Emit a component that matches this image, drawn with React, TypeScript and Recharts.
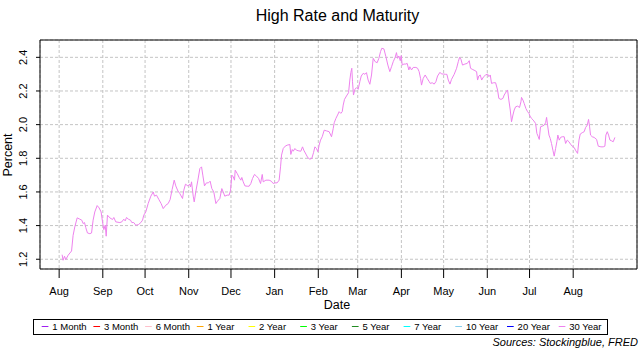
import React from 'react';
import { LineChart, Line, XAxis, YAxis, CartesianGrid, ReferenceArea } from 'recharts';

// days since 2020-08-01
const days = [
  2.1, 2.8, 3.8, 4.7, 6.4, 8.8, 9.9, 11.1, 12.8, 14.7, 16.1, 17.0, 18.0, 18.9, 20.1, 21.8, 23.0, 24.1, 25.3, 27.0,
  28.4, 29.8, 30.8, 31.7, 32.7, 33.4, 34.3, 36.0, 37.9, 38.8, 40.2, 43.1, 44.5, 45.9, 46.9, 47.8, 49.2, 50.7, 51.6, 53.0,
  54.4, 56.3, 58.0, 59.2, 60.1, 61.5, 63.2, 65.1, 66.8, 67.7, 69.1, 70.8, 72.4, 73.9, 75.7, 77.4, 78.8, 80.2, 81.7, 82.8,
  84.3, 85.7, 87.6, 88.5, 89.7, 91.4, 92.8, 93.3, 94.0, 95.2, 95.9, 97.0, 98.5, 99.9, 101.1, 102.0, 103.2, 104.6, 106.0, 107.2,
  108.4, 109.8, 111.3, 112.4, 114.1, 115.5, 116.5, 117.6, 119.3, 120.7, 121.7, 122.6, 123.6, 124.5,
  125.0, 126.4, 127.8, 129.0, 129.7, 130.7, 131.9, 133.5, 134.9, 136.1, 137.3, 138.7, 140.1, 141.6, 143.0, 144.2, 144.9, 146.8,
  149.1, 150.6, 152.0, 153.2, 154.8, 156.2, 157.2, 157.9, 159.1, 160.5, 161.9, 163.8, 164.5, 165.5, 166.2, 167.4, 168.5, 170.2,
  171.6, 172.8, 173.7, 175.2, 176.6, 178.0, 179.4, 180.6, 181.6, 182.7, 183.7, 184.6, 185.6, 186.8, 188.2, 189.8, 191.7, 193.4,
  194.6, 195.3, 196.5, 197.7, 198.8, 200.0, 201.0, 201.7, 202.6, 204.0, 205.5, 206.4, 207.1, 207.8, 208.3, 209.0, 210.0, 211.1,
  212.3, 213.5, 214.5, 215.9, 217.1, 218.2, 219.4, 220.6, 221.8, 223.0, 224.4, 225.8, 227.0, 228.2, 229.1, 230.6, 232.0, 233.4,
  234.8, 236.0, 237.2, 238.6, 239.5, 240.3, 241.2, 242.2, 242.9, 243.6, 244.8, 246.2, 247.1, 248.3, 249.0, 250.2, 251.4, 253.3,
  254.5, 255.6, 256.6, 257.3, 258.5, 259.9, 261.3, 262.8,
  263.5, 264.9, 266.3, 267.5, 268.7, 270.4, 271.5, 272.7, 274.4, 275.3, 276.3, 277.5, 278.6, 280.5, 282.2, 283.4, 284.3, 285.3,
  286.4, 288.1, 289.8, 291.2, 292.1, 293.3, 295.2, 296.4, 297.1, 298.0, 299.0, 300.0, 301.4, 302.8, 304.2, 305.1, 306.1, 307.0,
  308.5, 309.9, 311.3, 312.2, 313.7, 315.1, 316.0, 317.5, 318.4, 319.3, 320.3, 321.2, 322.2, 323.1, 324.1, 325.5, 326.9, 327.9,
  328.3, 329.3, 330.2, 331.4, 332.6, 333.6, 334.3, 335.4, 336.6, 338.3, 339.2, 340.2, 340.9, 341.8, 343.0, 344.4, 345.4, 346.1,
  346.8, 347.8, 348.7, 349.6, 350.6, 351.5, 352.5, 353.4, 354.1, 355.1, 356.0, 357.2, 358.6, 359.6, 360.8, 362.0, 363.1, 364.3,
  365.7, 366.9, 368.1, 369.1, 370.0, 371.4, 372.8, 373.8, 375.0, 375.9, 376.6, 377.3, 378.5, 379.9, 381.6, 382.8, 384.7, 386.3,
  387.5, 388.2, 389.2, 390.1, 391.1, 392.2, 393.4, 394.6,
];

const rates = [
  1.227, 1.194, 1.218, 1.198, 1.224, 1.249, 1.342, 1.392, 1.446, 1.438, 1.432, 1.412, 1.418, 1.388, 1.356, 1.352, 1.356, 1.432, 1.481, 1.519,
  1.505, 1.481, 1.422, 1.376, 1.402, 1.337, 1.462, 1.446, 1.436, 1.448, 1.422, 1.418, 1.422, 1.438, 1.428, 1.448, 1.438, 1.432, 1.418, 1.418,
  1.402, 1.406, 1.418, 1.432, 1.462, 1.481, 1.531, 1.575, 1.600, 1.575, 1.581, 1.555, 1.531, 1.501, 1.521, 1.531, 1.555, 1.614, 1.670, 1.636,
  1.606, 1.590, 1.561, 1.610, 1.646, 1.636, 1.646, 1.630, 1.660, 1.575, 1.541, 1.600, 1.670, 1.739, 1.749, 1.700, 1.636, 1.654, 1.654, 1.664,
  1.620, 1.600, 1.531, 1.545, 1.561, 1.620, 1.600, 1.575, 1.581, 1.581, 1.610, 1.700, 1.690, 1.670,
  1.729, 1.710, 1.686, 1.670, 1.686, 1.660, 1.636, 1.634, 1.634, 1.650, 1.680, 1.704, 1.694, 1.680, 1.650, 1.704, 1.660, 1.670,
  1.670, 1.664, 1.650, 1.654, 1.654, 1.670, 1.749, 1.819, 1.858, 1.872, 1.878, 1.882, 1.823, 1.852, 1.842, 1.858, 1.848, 1.844,
  1.842, 1.868, 1.848, 1.825, 1.803, 1.795, 1.799, 1.833, 1.868, 1.858, 1.839, 1.878, 1.908, 1.928, 1.967, 1.963, 1.958, 1.928,
  1.977, 2.011, 2.037, 2.057, 2.077, 2.067, 2.077, 2.116, 2.150, 2.170, 2.190, 2.265, 2.309, 2.335, 2.255, 2.176, 2.210, 2.220,
  2.210, 2.255, 2.289, 2.305, 2.299, 2.309, 2.265, 2.240, 2.295, 2.394, 2.374, 2.368, 2.394, 2.434, 2.454, 2.450, 2.404, 2.354,
  2.315, 2.344, 2.374, 2.400, 2.428, 2.394, 2.408, 2.380, 2.410, 2.354, 2.360, 2.360, 2.364, 2.325, 2.344, 2.325, 2.340, 2.340,
  2.335, 2.315, 2.275, 2.235, 2.275, 2.295, 2.275, 2.255,
  2.245, 2.249, 2.241, 2.255, 2.289, 2.311, 2.301, 2.301, 2.299, 2.299, 2.265, 2.241, 2.269, 2.299, 2.335, 2.374, 2.400, 2.388,
  2.354, 2.360, 2.364, 2.380, 2.335, 2.329, 2.321, 2.315, 2.265, 2.289, 2.295, 2.265, 2.285, 2.295, 2.301, 2.285, 2.295, 2.245,
  2.249, 2.249, 2.206, 2.156, 2.150, 2.156, 2.176, 2.196, 2.206, 2.146, 2.087, 2.017, 2.057, 2.087, 2.106, 2.110, 2.102, 2.136,
  2.162, 2.146, 2.126, 2.096, 2.077, 2.067, 2.051, 2.037, 2.027, 2.007, 1.948, 1.928, 1.912, 1.987, 1.991, 1.997, 2.011, 2.043,
  1.997, 1.938, 1.918, 1.888, 1.848, 1.813, 1.858, 1.898, 1.938, 1.908, 1.924, 1.928, 1.928, 1.888, 1.908, 1.898, 1.884, 1.872,
  1.864, 1.844, 1.829, 1.908, 1.944, 1.952, 1.958, 1.983, 1.997, 2.031, 1.991, 1.938, 1.928, 1.924, 1.912, 1.872, 1.868, 1.868,
  1.872, 1.938, 1.958, 1.938, 1.908, 1.904, 1.898, 1.924,
];

const monthTicks = [0, 31, 61, 92, 122, 153, 184, 212, 243, 273, 304, 334, 365];
const monthLabels = ['Aug', 'Sep', 'Oct', 'Nov', 'Dec', 'Jan', 'Feb', 'Mar', 'Apr', 'May', 'Jun', 'Jul', 'Aug'];
const yTicks = [1.2, 1.4, 1.6, 1.8, 2.0, 2.2, 2.4];

const maturities = ['1 Month', '3 Month', '6 Month', '1 Year', '2 Year', '3 Year', '5 Year', '7 Year', '10 Year', '20 Year', '30 Year'];
const maturityColors = ['#A020F0', '#FF0000', '#FFC0CB', '#FFA500', '#FFFF00', '#00FF00', '#228B22', '#00FFFF', '#87CEEB', '#0000FF', '#EE82EE'];

const xDomain: [number, number] = [-13.6, 410.3];
const yDomain: [number, number] = [1.142, 2.503];

const FONT = '"Liberation Sans", Arial, sans-serif';

const data = days.map((d, i) => ({ day: d, rate: rates[i] }));

const YTick = (props: any) => {
  const { y, payload } = props;
  const x = 27;
  return (
    <text x={x} y={y} transform={`rotate(-90 ${x} ${y})`} textAnchor="middle" fontSize={11} fontFamily={FONT} fill="#000">
      {Number(payload.value).toFixed(1)}
    </text>
  );
};

const XTick = (props: any) => {
  const { x, payload } = props;
  const idx = monthTicks.indexOf(payload.value);
  return (
    <text x={x} y={295} textAnchor="middle" fontSize={11} fontFamily={FONT} fill="#000">
      {idx >= 0 ? monthLabels[idx] : ''}
    </text>
  );
};

export default function App() {
  return (
    <div style={{ position: 'absolute', left: 0, top: 0, width: 640, height: 360, background: '#fff' }}>
      <LineChart
        width={640}
        height={360}
        data={data}
        margin={{ top: 40, right: 3, bottom: 51, left: 0 }}
      >
        <CartesianGrid stroke="#c4c4c4" strokeDasharray="3 2" />
        <XAxis
          dataKey="day"
          type="number"
          domain={xDomain}
          allowDataOverflow
          ticks={monthTicks}
          interval={0}
          height={40}
          axisLine={false}
          tickLine={{ stroke: '#000' }}
          tickSize={9}
          tick={<XTick />}
        />
        <YAxis
          type="number"
          domain={yDomain}
          allowDataOverflow
          ticks={yTicks}
          interval={0}
          width={40}
          axisLine={false}
          tickLine={{ stroke: '#000' }}
          tickSize={4}
          tick={<YTick />}
        />
        <Line
          type="linear"
          dataKey="rate"
          stroke="#EE82EE"
          strokeWidth={1}
          dot={false}
          activeDot={false}
          isAnimationActive={false}
        />
        <ReferenceArea
          x1={xDomain[0]}
          x2={xDomain[1]}
          y1={yDomain[0]}
          y2={yDomain[1]}
          fill="none"
          fillOpacity={0}
          stroke="#000"
          strokeWidth={1}
          ifOverflow="visible"
        />
      </LineChart>
      <svg width={640} height={360} style={{ position: 'absolute', left: 0, top: 0, pointerEvents: 'none' }}>
        <text x={337.5} y={21} textAnchor="middle" fontSize={16} fontFamily={FONT} fill="#000">
          High Rate and Maturity
        </text>
        <text x={337} y={309} textAnchor="middle" fontSize={12.5} fontFamily={FONT} fill="#000">
          Date
        </text>
        <text x={12} y={155} transform="rotate(-90 12 155)" textAnchor="middle" fontSize={12.5} fontFamily={FONT} fill="#000">
          Percent
        </text>
        <rect x={33.5} y={319.5} width={574} height={15} fill="none" stroke="#000" strokeWidth={1} />
        {maturities.map((m, i) => {
          const lx = 41.7 + 51.7 * i;
          return (
            <g key={m}>
              <line x1={lx} x2={lx + 6.7} y1={326.5} y2={326.5} stroke={maturityColors[i]} strokeWidth={1} />
              <text x={lx + 10.6} y={330} fontSize={9.5} fontFamily={FONT} fill="#000">
                {m}
              </text>
            </g>
          );
        })}
        <text x={638} y={346} textAnchor="end" fontSize={11} fontStyle="italic" fontFamily={FONT} fill="#000">
          Sources: Stockingblue, FRED
        </text>
      </svg>
    </div>
  );
}
